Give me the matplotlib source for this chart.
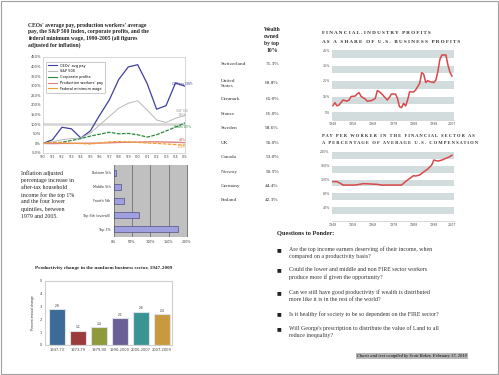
import matplotlib
matplotlib.use("Agg")
import matplotlib.pyplot as plt
from matplotlib.lines import Line2D
from matplotlib.patches import Rectangle

# ---------------- data ----------------
# Panel 1: CEO pay etc. (cumulative % change since 1990)
years1 = ["'90", "'91", "'92", "'93", "'94", "'95", "'96", "'97", "'98", "'99",
          "'00", "'01", "'02", "'03", "'04", "'05"]
ceo_pay = [0, 19, 84, 76, 28, 65, 148, 226, 333, 398, 410, 312, 178, 197, 315, 298]
sp500 = [0, 8, 19, 25, 28, 53, 97, 140, 183, 209, 222, 174, 122, 109, 131, 145]
corp_profits = [0, 2, 6, 15, 25, 38, 48, 58, 50, 52, 45, 33, 45, 65, 85, 107]
worker_pay = [0, -1, 0, 0, 1, 1, 2, 3, 5, 6, 7, 8, 8, 7, 6, 4]
min_wage = [0, 5, 3, 1, -1, -3, 2, 8, 10, 8, 5, 2, 0, -3, -6, -9]
yticks1 = [-50, 0, 50, 100, 150, 200, 250, 300, 350, 400, 450]

# Panel 2: after-tax household income change 1979-2005
groups2 = ["Bottom 5th", "Middle 5th", "Fourth 5th", "Top 5th (overall)", "Top 1%"]
income_change = [6, 21, 29, 69, 176]
xticks2 = [0, 50, 100, 150, 200]

# Panel 3: productivity
periods3 = ["1947-73", "1973-79", "1979-90", "1990-2000", "2000-2007", "2007-2009"]
productivity = [2.8, 1.1, 1.4, 2.1, 2.6, 2.4]
colors3 = ["#3d6a99", "#9b3b3b", "#8e9a3b", "#6a5f94", "#3b9494", "#c99a3d"]

# Panel 4: wealth table
countries = ["Switzerland", "United\nStates", "Denmark", "France", "Sweden", "UK",
             "Canada", "Norway", "Germany", "Finland"]
wealth_top10 = [71.3, 69.8, 65.0, 61.0, 58.6, 56.0, 53.0, 50.5, 44.4, 42.3]

# Panel 5: financial profits share
years5 = [1948, 1949, 1950, 1951, 1952, 1953, 1955, 1956, 1957, 1959, 1960, 1961,
          1962, 1964, 1965, 1967, 1968, 1969, 1970, 1971, 1972, 1973, 1975, 1976,
          1977, 1979, 1980, 1981, 1982, 1983, 1984, 1985, 1986, 1988, 1989, 1991,
          1992, 1993, 1994, 1995, 1996, 1998, 1999, 2000, 2001, 2002, 2004, 2005,
          2006, 2007]
fin_profits = [9.1, 11, 9, 9.5, 11, 12.7, 12, 12.7, 15, 15.3, 16.6, 17.5,
               15, 13.4, 12, 12.3, 13, 13.8, 18.8, 18.1, 17, 15.5, 12.7, 14.5,
               16.6, 16.6, 13.8, 8.4, 7.8, 10.6, 8.9, 12.7, 18, 17.9, 19.2, 23.5,
               30.4, 29.3, 24, 25.2, 24.6, 24, 25.6, 31, 39, 41.8, 41.8, 35.3,
               30.6, 28.2]
yticks5 = [5, 15, 25, 35, 45]
xticks56 = [1948, 1958, 1968, 1978, 1988, 1998, 2007]

# Panel 6: financial pay as % of average
years6 = [1948, 1950, 1952, 1953, 1955, 1959, 1961, 1963, 1967, 1970, 1972, 1975,
          1978, 1982, 1984, 1986, 1988, 1989, 1991, 1993, 1995, 1997, 1998, 2000,
          2002, 2004, 2006, 2007]
fin_pay = [114, 114, 108, 104, 104, 104, 106, 108, 107, 106, 104, 104,
           104, 104, 114, 123, 131, 130, 133, 142, 150, 162, 176, 173,
           176, 181, 186, 190]
yticks6 = [40, 80, 120, 160, 200]

questions = [
    ["Are the top income earners deserving of their income, when",
     "compared on a productivity basis?"],
    ["Could the lower and middle and non FIRE sector workers",
     "produce more if given the opportunity?"],
    ["Can we still have good productivity if wealth is distributed",
     "more like it is in the rest of the world?"],
    ["Is it healthy for society to be so dependent on the FIRE sector?"],
    ["Will George's prescription to distribute the value of Land to all",
     "reduce inequality?"],
]

# ---------------- figure ----------------
W, H = 499, 375
fig = plt.figure(figsize=(W / 100, H / 100), dpi=100)
fig.patch.set_facecolor("white")
SERIF = ["Liberation Serif", "DejaVu Serif"]
SANS = ["Liberation Sans", "DejaVu Sans"]


def ax_px(x0, y0, x1, y1):
    return fig.add_axes([x0 / W, 1 - y1 / H, (x1 - x0) / W, (y1 - y0) / H])


def txt(x, y, s, **kw):
    kw.setdefault("family", SERIF)
    kw.setdefault("va", "center")
    return fig.text(x / W, 1 - y / H, s, **kw)


# page border
fig.add_artist(Rectangle((0.002, 0.003), 0.996, 0.994, transform=fig.transFigure,
                         fill=False, ec="#a0a0a0", lw=0.8))

# ---- Panel 1 ----
for i, line in enumerate(["CEOs' average pay, production workers' average",
                          "pay, the S&P 500 Index, corporate profits, and the",
                          "federal minimum wage, 1990-2005 (all figures",
                          "adjusted for inflation)"]):
    txt(28, 25 + i * 6.7, line, fontsize=4.1, weight="bold", ha="left", color="#222")

ax1 = ax_px(43, 57, 185, 153)
x1 = list(range(len(years1)))
ax1.axhline(100, color="#d4d4d4", lw=1.8, zorder=0)
ax1.plot(x1, ceo_pay, color="#4040a0", lw=0.9)
ax1.plot(x1, sp500, color="#b8b8b8", lw=0.7)
ax1.plot(x1, corp_profits, color="#2e8b3e", lw=0.9, ls=(0, (3, 1)))
ax1.plot(x1, worker_pay, color="#e08080", lw=1.0)
ax1.plot(x1, min_wage, color="#f0a030", lw=0.9, ls=(0, (3, 1)))
ax1.set_xlim(0, len(years1) - 1)
ax1.set_ylim(-50, 450)
ax1.set_xticks(x1)
ax1.set_xticklabels(years1)
ax1.set_yticks(yticks1)
ax1.set_yticklabels([f"{v}%" for v in yticks1])
ax1.tick_params(labelsize=2.6, length=0, pad=1.5, colors="#444")
for s in ax1.spines.values():
    s.set_color("#c8c8c8")
    s.set_linewidth(0.5)
handles = [Line2D([], [], color="#4040a0", lw=0.8),
           Line2D([], [], color="#b8b8b8", lw=0.8),
           Line2D([], [], color="#2e8b3e", lw=0.8),
           Line2D([], [], color="#e08080", lw=0.8),
           Line2D([], [], color="#f0a030", lw=0.8)]
leg = ax1.legend(handles, ["CEOs' avg pay", "S&P 500", "Corporate profits",
                           "Production workers' pay", "Federal minimum wage"],
                 loc="upper left", fontsize=2.5, frameon=True, handlelength=2.5,
                 borderpad=0.6, labelspacing=0.5, bbox_to_anchor=(0.01, 0.97))
leg.get_frame().set_edgecolor("#888")
leg.get_frame().set_linewidth(0.4)
end_labels = [(ceo_pay[-1], "CEO pay 298%", "#4040a0", 12),
              (sp500[-1], "S&P 500\n145%", "#999999", 14),
              (corp_profits[-1], "Profits 107%", "#2e8b3e", -22),
              (worker_pay[-1], "4.3%", "#d04040", 14),
              (min_wage[-1], "-9.3%", "#e09020", -10)]
for v, lab, c, dy in end_labels:
    ax1.text(len(years1) - 1.3, v + dy, lab, fontsize=2.2, color=c, ha="center",
             va="center", family=SANS)

# ---- Panel 2 ----
for i, line in enumerate(["Inflation adjusted", "percentage increase in",
                          "after-tax household", "income for the top 1%",
                          "and the four lower", "quintiles, between",
                          "1979 and 2005."]):
    txt(21, 173.3 + i * 7.15, line, fontsize=4.2, ha="left", color="#222")

ax2 = ax_px(113.5, 165, 188, 237)
ax2.set_facecolor("#c0c0c0")
y2 = list(range(len(groups2)))
ax2.barh(y2, income_change, height=0.42, color="#a0a0e0", edgecolor="#3a3a6a",
         lw=0.4, zorder=3)
ax2.set_xlim(0, 203)
ax2.set_ylim(len(groups2) - 0.43, -0.57)
ax2.set_xticks(xticks2)
ax2.set_xticklabels([f"{v}%" for v in xticks2])
ax2.set_yticks(y2)
ax2.set_yticklabels(groups2)
ax2.grid(axis="x", color="#606060", lw=0.5, zorder=0)
ax2.tick_params(labelsize=2.4, length=0, pad=2, colors="#333")
for s in ax2.spines.values():
    s.set_visible(False)

# ---- Panel 3 ----
txt(104, 268.5, "Productivity change in the nonfarm business sector, 1947-2009",
    fontsize=3.7, weight="bold", ha="center", color="#222")
ax3 = ax_px(45, 281, 172, 345)
x3 = list(range(len(periods3)))
ax3.bar(x3, productivity, width=0.76, color=colors3, edgecolor="#dde2ea", lw=0.8)
for xi, v in zip(x3, productivity):
    ax3.text(xi, v + 0.12, f"{v:.1f}", fontsize=2.4, ha="center", va="bottom",
             color="#333", family=SANS)
ax3.set_xlim(-0.57, 5.48)
ax3.set_ylim(0, 5)
ax3.set_xticks(x3)
ax3.set_xticklabels(periods3)
ax3.set_yticks([0, 1, 2, 3, 4, 5])
ax3.tick_params(labelsize=2.6, length=0, pad=2, colors="#444")
for s in ax3.spines.values():
    s.set_color("#cfcfcf")
    s.set_linewidth(0.8)
txt(32.7, 313, "Percent annual change", fontsize=2.4, rotation=90, ha="center",
    color="#333", family=SANS)

# ---- Panel 4: table ----
for i, line in enumerate(["Wealth", "owned", "by top", "10%"]):
    txt(272, 29.5 + i * 7, line, fontsize=4.0, weight="bold", ha="center", color="#222")
row_y = [64, 83.3, 99.3, 113.7, 128.3, 142.7, 157, 171.7, 186, 200]
for cy, name, val in zip(row_y, countries, wealth_top10):
    txt(221, cy, name, fontsize=3.8, ha="left", color="#333", linespacing=1.5)
    txt(272, cy, f"{val:.1f}%", fontsize=3.8, ha="center", color="#333")


# ---- Panels 5 & 6 ----
def spaced(s):
    return "   ".join(" ".join(w) for w in s.split(" "))


def fin_panel(box, xs, ys, ylim, yticks, bands):
    ax = ax_px(*box)
    for b0, b1 in bands:
        ax.axhspan(b0, b1, color="#d2dcdc", lw=0, zorder=0)
    ax.plot(xs, ys, color="#d84848", lw=1.1, zorder=3)
    ax.set_xlim(1947.4, 2008)
    ax.set_ylim(*ylim)
    ax.set_yticks(yticks)
    ax.set_yticklabels([f"{v}%" for v in yticks])
    ax.set_xticks(xticks56)
    ax.set_xticklabels([str(v) for v in xticks56])
    ax.tick_params(labelsize=2.3, length=0, pad=1.5, colors="#555")
    for k, s in ax.spines.items():
        s.set_visible(k == "bottom")
    ax.spines["bottom"].set_color("#bbbbbb")
    ax.spines["bottom"].set_linewidth(0.4)
    return ax


TS = 3.7
txt(322, 33.3, spaced("FINANCIAL-INDUSTRY PROFITS"), fontsize=TS, weight="bold",
    ha="left", color="#333")
txt(322, 41.7, spaced("AS A SHARE OF U.S. BUSINESS PROFITS"), fontsize=TS,
    weight="bold", ha="left", color="#333")
fin_panel((331.7, 50, 454, 119.75), years5, fin_profits, (0, 45), yticks5,
          [(40, 45), (30, 35), (20, 25), (10, 15), (0, 5)])

txt(322, 136, spaced("PAY PER WORKER IN THE FINANCIAL SECTOR AS"), fontsize=TS * 0.87,
    weight="bold", ha="left", color="#333")
txt(322, 142.7, spaced("A PERCENTAGE OF AVERAGE U.S. COMPENSATION"), fontsize=TS * 0.87,
    weight="bold", ha="left", color="#333")
fin_panel((331.7, 151.7, 454, 221.2), years6, fin_pay, (0, 200), yticks6,
          [(180, 200), (140, 160), (100, 120), (60, 80), (20, 40)])

# ---- Questions ----
txt(277, 233, "Questions to Ponder:", fontsize=4.6, weight="bold", ha="left", color="#222")
q_y = [249.3, 269.3, 292.3, 314, 328.3]
for qy, lines in zip(q_y, questions):
    txt(279, qy, "\u25a0", fontsize=3.6, ha="center", color="#222", family=["DejaVu Sans"])
    for j, line in enumerate(lines):
        txt(289, qy + j * 7.4, line, fontsize=4.2, ha="left", color="#333")

txt(357, 356, "Charts and text compiled by Scott Baker, February 17, 2010",
    fontsize=3.2, style="italic", weight="bold", ha="left", color="#333",
    bbox=dict(facecolor="#b8b8b8", edgecolor="none", pad=0.6))

fig.savefig("out.png", dpi=100)
